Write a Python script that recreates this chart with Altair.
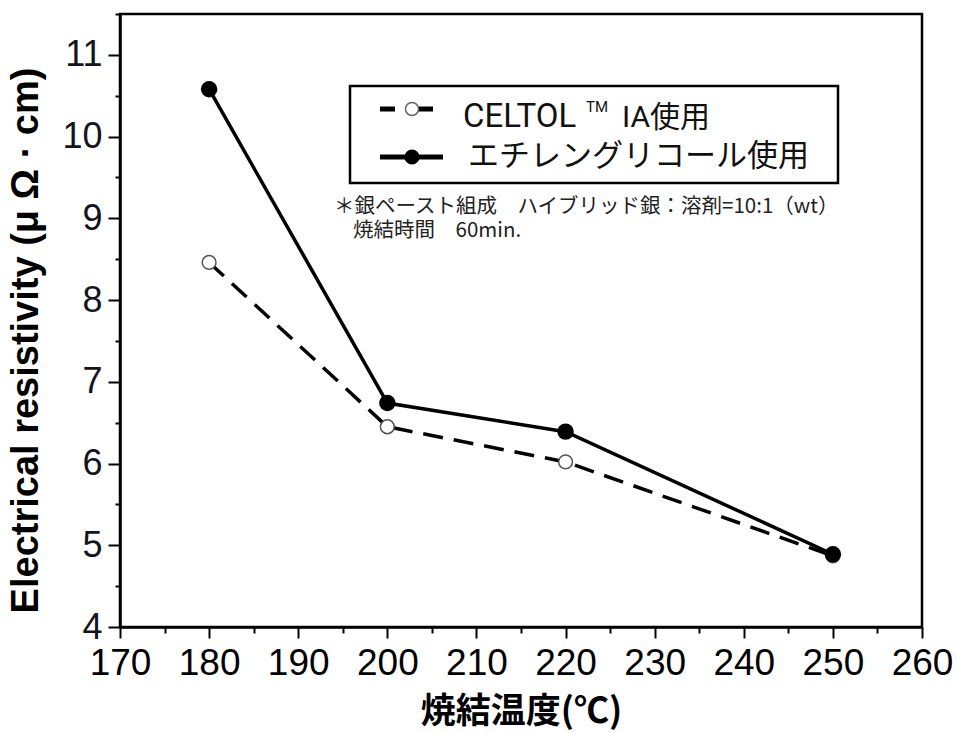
import altair as alt
import pandas as pd

# ---- data ----
temps = [180, 200, 220, 250]
celtol = [8.46, 6.45, 6.02, 4.87]
glycol = [10.58, 6.74, 6.39, 4.89]
x_all_ticks = list(range(170, 261, 5))
y_all_ticks = [4 + 0.5 * i for i in range(16)]

df_c = pd.DataFrame({"t": temps, "r": celtol})
df_g = pd.DataFrame({"t": temps, "r": glycol})

W, H = 802, 613
xs = alt.Scale(domain=[170, 260], nice=False, zero=False)
ys = alt.Scale(domain=[4, 11.5], nice=False, zero=False)

AXF = "Liberation Sans"
JP = "Noto Sans CJK JP"

x_axis = alt.Axis(
    values=x_all_ticks,
    labelExpr="datum.value % 10 === 0 ? format(datum.value, 'd') : ''",
    tickSize={"condition": {"test": "datum.value % 10 === 0", "value": 11}, "value": 6},
    tickWidth=2, tickColor="black", domainColor="black", domainWidth=2.5,
    labelFont=AXF, labelFontSize=37, labelColor="black", labelPadding=7,
    grid=False, title="焼結温度(℃)", titleFont=JP, titleFontSize=35,
    titleFontWeight="bold", titleColor="black", titlePadding=13,
    labelOverlap=False, labelFlush=False,
)
y_axis = alt.Axis(
    values=y_all_ticks,
    labelExpr="datum.value % 1 === 0 ? format(datum.value, 'd') : ''",
    tickSize={"condition": {"test": "datum.value % 1 === 0", "value": 12}, "value": 5},
    tickWidth=2, tickColor="black", domainColor="black", domainWidth=2.5,
    labelFont=AXF, labelFontSize=36, labelColor="#141420", labelPadding=6,
    grid=False, title="Electrical resistivity (μ Ω · cm)", titleFont=AXF,
    titleFontSize=38, titleFontWeight="bold", titleColor="black", titlePadding=16,
    titleY=326,
    labelOverlap=False,
)

enc_x = alt.X("t:Q", scale=xs, axis=x_axis)
enc_y = alt.Y("r:Q", scale=ys, axis=y_axis)

line_c = alt.Chart(df_c).mark_line(color="black", strokeWidth=3.5, strokeDash=[20, 11]).encode(x=enc_x, y=enc_y)
pts_c = alt.Chart(df_c).mark_point(shape="circle", size=190, filled=True, fill="white",
                                    stroke="#555", strokeWidth=1.5, opacity=1).encode(x=enc_x, y=enc_y)
line_g = alt.Chart(df_g).mark_line(color="black", strokeWidth=3.5).encode(x=enc_x, y=enc_y)
pts_g = alt.Chart(df_g).mark_point(shape="circle", size=270, filled=True, color="black",
                                    opacity=1).encode(x=enc_x, y=enc_y)

one = pd.DataFrame({"k": [0]})
base = alt.Chart(one)

# legend box and entries (pixel positions inside the plot area)
box = base.mark_rect(fill="white", stroke="black", strokeWidth=2.5).encode(
    x=alt.value(230), x2=alt.value(718), y=alt.value(72), y2=alt.value(169))
leg1_line = base.mark_rule(color="black", strokeWidth=5, strokeDash=[15, 23]).encode(
    x=alt.value(260), x2=alt.value(313), y=alt.value(95))
leg1_pt = base.mark_point(shape="circle", size=170, filled=True, fill="white",
                          stroke="#666", strokeWidth=1.5, opacity=1).encode(
    x=alt.value(292), y=alt.value(95))
leg2_line = base.mark_rule(color="black", strokeWidth=5).encode(
    x=alt.value(260), x2=alt.value(323), y=alt.value(143))
leg2_pt = base.mark_point(shape="circle", size=230, filled=True, color="black", opacity=1).encode(
    x=alt.value(292), y=alt.value(143))

t1a = base.mark_text(text="CELTOL", font="Roboto", fontSize=33, align="left",
                     baseline="alphabetic", color="#111").encode(x=alt.value(343), y=alt.value(113))
t1b = base.mark_text(text="TM", font="Roboto", fontSize=15, align="left",
                     baseline="alphabetic", color="#111").encode(x=alt.value(466), y=alt.value(98))
t1c = base.mark_text(text="IA使用", font="Roboto, 'Noto Sans CJK JP'", fontSize=30, align="left",
                     baseline="alphabetic", color="#111").encode(x=alt.value(502), y=alt.value(113))
t2 = base.mark_text(text="エチレングリコール使用", font=JP, fontSize=31, align="left",
                    baseline="middle", color="#111").encode(x=alt.value(348), y=alt.value(143))

n1 = base.mark_text(text="＊銀ペースト組成　ハイブリッド銀：溶剤=10:1（wt）", font=JP, fontSize=20.5,
                    align="left", baseline="middle", color="#222").encode(
    x=alt.value(214), y=alt.value(193))
n2 = base.mark_text(text="焼結時間　60min.", font=JP, fontSize=20.5, align="left",
                    baseline="middle", color="#222").encode(x=alt.value(233), y=alt.value(217))

chart = alt.layer(
    line_c, line_g, pts_c, pts_g,
    box, leg1_line, leg1_pt, leg2_line, leg2_pt, t1a, t1b, t1c, t2, n1, n2,
).properties(
    width=W, height=H,
    autosize=alt.AutoSizeParams(type="none"),
    padding={"left": 120, "top": 14, "right": 35, "bottom": 106},
    background="white",
).configure_view(stroke="black", strokeWidth=2.5)

chart.save("out.html", embed_options={"renderer": "svg", "actions": False})
